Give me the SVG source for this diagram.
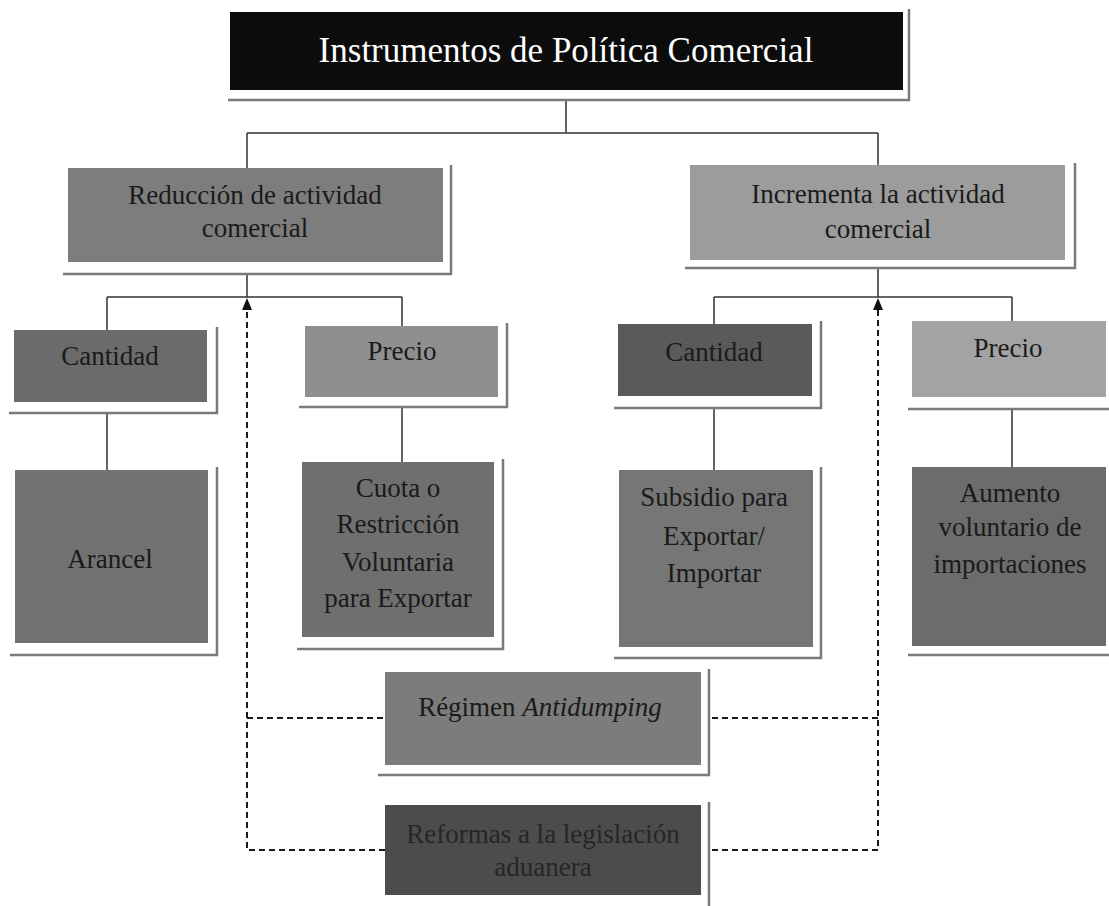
<svg xmlns="http://www.w3.org/2000/svg" width="1109" height="906" viewBox="0 0 1109 906">
<style>
.t{font-family:"Liberation Serif","Times New Roman",serif;font-size:27px;fill:#1a1a1a;text-anchor:middle}
.tt{font-family:"Liberation Serif","Times New Roman",serif;font-size:35px;fill:#ffffff;text-anchor:middle}
.fr{fill:none;stroke:#7a7a7a;stroke-width:2.5}
.ln{fill:none;stroke:#333;stroke-width:1.5}
.ds{fill:none;stroke:#1a1a1a;stroke-width:2;stroke-dasharray:6 4}
</style>
<defs>
<marker id="ah" viewBox="0 0 12 10" refX="11" refY="5" markerWidth="12" markerHeight="10" markerUnits="userSpaceOnUse" orient="auto">
<path d="M0,0 L12,5 L0,10 Z" fill="#111"/>
</marker>
</defs>
<rect width="1109" height="906" fill="#ffffff"/>
<g id="connectors">
<path class="ln" d="M566,100 V133 M247,133 H878 M247,133 V168 M878,133 V165"/>
<path class="ln" d="M247,274 V297 M107,297 H402 M107,297 V330 M402,297 V326 M107,413 V470 M402,407 V462"/>
<path class="ln" d="M878,268 V297 M714,297 H1012 M714,297 V324 M1012,297 V321 M714,408 V470 M1012,409 V467"/>
<path class="ds" d="M385,850 H247 V299" marker-end="url(#ah)"/>
<path class="ds" d="M247,718 H385"/>
<path class="ds" d="M712,850 H878 V299" marker-end="url(#ah)"/>
<path class="ds" d="M712,718 H878"/>
</g>
<g id="title">
<rect x="230" y="12" width="673" height="78" fill="#0c0c0c"/>
<path class="fr" d="M909,9 V100 H228"/>
<text class="tt" x="566" y="62">Instrumentos de Política Comercial</text>
</g>
<g id="reduccion">
<rect x="68" y="168" width="375" height="94" fill="#7d7d7d"/>
<path class="fr" d="M451,165 V274 H63"/>
<text class="t" x="255" y="204">Reducción de actividad</text>
<text class="t" x="255" y="237">comercial</text>
</g>
<g id="incrementa">
<rect x="690" y="165" width="375" height="95" fill="#9c9c9c"/>
<path class="fr" d="M1075,163 V268 H685"/>
<text class="t" x="878" y="203">Incrementa la actividad</text>
<text class="t" x="878" y="238">comercial</text>
</g>
<g id="cantidad-izq">
<rect x="14" y="330" width="193" height="72" fill="#6b6b6b"/>
<path class="fr" d="M217,327 V413 H9"/>
<text class="t" x="110" y="365">Cantidad</text>
</g>
<g id="precio-izq">
<rect x="305" y="326" width="193" height="71" fill="#8f8f8f"/>
<path class="fr" d="M507,323 V407 H299"/>
<text class="t" x="402" y="360">Precio</text>
</g>
<g id="arancel">
<rect x="15" y="470" width="193" height="173" fill="#727272"/>
<path class="fr" d="M217,467 V655 H10"/>
<text class="t" x="110" y="568">Arancel</text>
</g>
<g id="cuota">
<rect x="302" y="462" width="192" height="175" fill="#6f6f6f"/>
<path class="fr" d="M503,459 V649 H297"/>
<text class="t" x="398" y="497">Cuota o</text>
<text class="t" x="398" y="533">Restricción</text>
<text class="t" x="398" y="571">Voluntaria</text>
<text class="t" x="398" y="607">para Exportar</text>
</g>
<g id="cantidad-der">
<rect x="618" y="324" width="194" height="72" fill="#5a5a5a"/>
<path class="fr" d="M821,321 V408 H614"/>
<text class="t" x="714" y="361">Cantidad</text>
</g>
<g id="precio-der">
<rect x="912" y="321" width="194" height="76" fill="#a3a3a3"/>
<path class="fr" d="M1109,409 H908"/>
<text class="t" x="1008" y="357">Precio</text>
</g>
<g id="subsidio">
<rect x="619" y="470" width="194" height="177" fill="#767676"/>
<path class="fr" d="M821,467 V658 H614"/>
<text class="t" x="714" y="506">Subsidio para</text>
<text class="t" x="714" y="545">Exportar/</text>
<text class="t" x="714" y="582">Importar</text>
</g>
<g id="aumento">
<rect x="912" y="467" width="194" height="179" fill="#6c6c6c"/>
<path class="fr" d="M1109,655 H908"/>
<text class="t" x="1010" y="502">Aumento</text>
<text class="t" x="1010" y="536">voluntario de</text>
<text class="t" x="1010" y="573">importaciones</text>
</g>
<g id="regimen">
<rect x="385" y="672" width="316" height="93" fill="#7c7c7c"/>
<path class="fr" d="M709,669 V775 H378"/>
<text class="t" x="540" y="716">Régimen <tspan font-style="italic">Antidumping</tspan></text>
</g>
<g id="reformas">
<rect x="385" y="805" width="316" height="90" fill="#4c4c4c"/>
<path class="fr" d="M709,802 V906"/>
<text class="t" x="543" y="843" style="fill:#262626">Reformas a la legislación</text>
<text class="t" x="543" y="876" style="fill:#262626">aduanera</text>
</g>
</svg>
